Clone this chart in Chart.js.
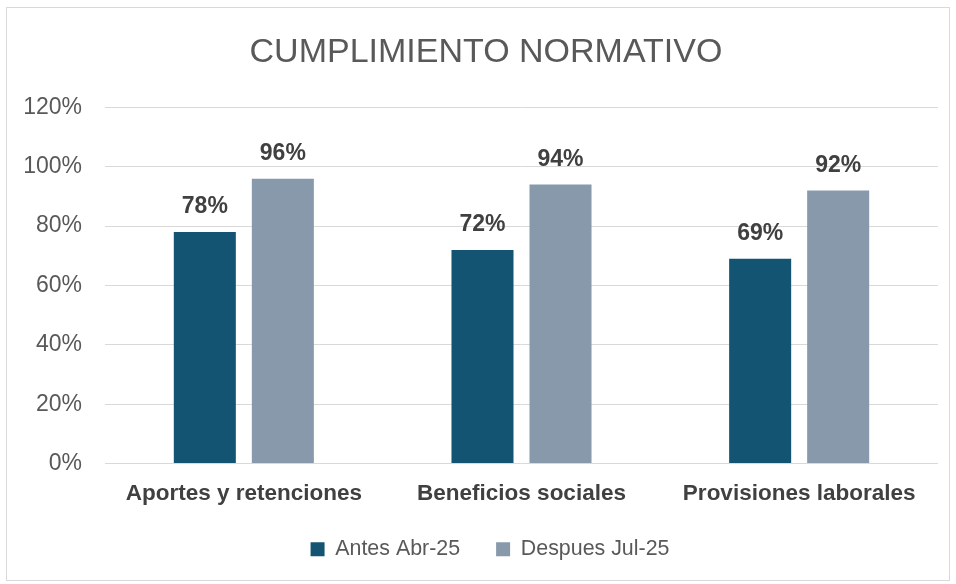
<!DOCTYPE html>
<html>
<head>
<meta charset="utf-8">
<script src="https://cdn.jsdelivr.net/npm/chart.js@4"></script>
<style>
  body { margin: 0; background: #ffffff; }
  #frame { position: absolute; left: 6px; top: 7px; width: 942px; height: 572px; border: 1px solid #d9d9d9; }
  #wrap { position: absolute; left: 0; top: 0; width: 956px; height: 584px; }
</style>
</head>
<body>
<div id="frame"></div>
<div id="wrap"><canvas id="myChart" width="956" height="584"></canvas></div>
<script>
// data
const categories = ["Aportes y retenciones", "Beneficios sociales", "Provisiones laborales"];
const seriesNames = ["Antes Abr-25", "Despues Jul-25"];
const antes = [78, 72, 69];
const despues = [96, 94, 92];
const yTicks = [0, 20, 40, 60, 80, 100, 120];

const FONT = "'Liberation Sans', Arial, sans-serif";

// draws the value above each bar
const barLabels = {
    id: "barLabels",
    afterDatasetsDraw(chart) {
        const ctx = chart.ctx;
        ctx.save();
        ctx.font = "bold 23px " + FONT;
        ctx.fillStyle = "#404040";
        ctx.textAlign = "center";
        ctx.textBaseline = "middle";
        chart.data.datasets.forEach((ds, i) => {
            chart.getDatasetMeta(i).data.forEach((bar, j) => {
                ctx.fillText(ds.data[j] + "%", bar.x, bar.y - 25);
            });
        });
        ctx.restore();
    }
};

// title and legend are centred on the whole frame, not on the plot
const shiftBoxes = {
    id: "shiftBoxes",
    afterLayout(chart) {
        chart.titleBlock.left = 34;
        chart.legend.left = 42;
        chart.scales.x.bottom += 14; // room so the bold labels are not clipped
    }
};

const ctx = document.getElementById("myChart").getContext("2d");
new Chart(ctx, {
    type: "bar",
    data: {
        labels: categories,
        datasets: [
            { label: seriesNames[0], data: antes, backgroundColor: "#145473" },
            { label: seriesNames[1], data: despues, backgroundColor: "#8799ab" }
        ]
    },
    options: {
        responsive: false,
        animation: false,
        devicePixelRatio: 1,
        categoryPercentage: 0.562,
        barPercentage: 0.795,
        layout: { padding: { top: 32, right: 18, bottom: 14, left: 0 } },
        plugins: {
            title: {
                display: true,
                text: "CUMPLIMIENTO NORMATIVO",
                color: "#595959",
                font: { family: FONT, size: 34, weight: "normal" },
                padding: { top: 0, bottom: 34.6 }
            },
            legend: {
                position: "bottom",
                labels: {
                    color: "#595959",
                    font: { family: FONT, size: 21.4 },
                    boxWidth: 14,
                    boxHeight: 14,
                    padding: 36
                }
            },
            tooltip: { enabled: false }
        },
        scales: {
            x: {
                afterFit: (scale) => { scale.height = 39; },
                grid: { display: false, drawTicks: false },
                border: { display: false },
                ticks: {
                    color: "#404040",
                    font: { family: FONT, size: 22.5, weight: "bold" },
                    padding: 16.5
                }
            },
            y: {
                min: 0,
                max: 120,
                afterFit: (scale) => { scale.width = 105; },
                afterBuildTicks: (scale) => { scale.ticks = yTicks.map(v => ({ value: v })); },
                grid: { color: "#d9d9d9", lineWidth: 1, drawTicks: false },
                border: { display: false },
                ticks: {
                    color: "#595959",
                    font: { family: FONT, size: 23 },
                    padding: 23,
                    callback: (v) => v + "%"
                }
            }
        }
    },
    plugins: [barLabels, shiftBoxes]
});
</script>
</body>
</html>
